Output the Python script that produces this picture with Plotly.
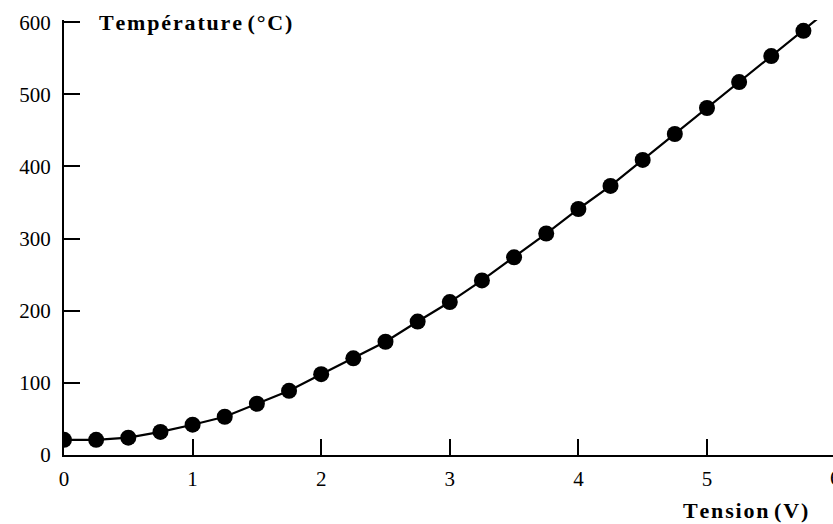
import plotly.graph_objects as go

# Measured heating curve: voltage (V) vs temperature (°C)
tension_v = [0.0, 0.25, 0.5, 0.75, 1.0, 1.25, 1.5, 1.75, 2.0, 2.25, 2.5, 2.75,
             3.0, 3.25, 3.5, 3.75, 4.0, 4.25, 4.5, 4.75, 5.0, 5.25, 5.5, 5.75, 6.0]
temperature_c = [21, 21, 24, 32, 42, 53, 71, 89, 112, 134, 157, 185,
                 212, 242, 274, 307, 341, 373, 409, 445, 481, 517, 553, 588, 625]

x_ticks = [0, 1, 2, 3, 4, 5, 6]
y_ticks = [0, 100, 200, 300, 400, 500, 600]

HS = "\u200a"  # hair space used to open up the bold axis titles


def spaced(s):
    return HS.join(s)


serif = "Liberation Serif, Times New Roman, serif"

fig = go.Figure()
fig.add_trace(go.Scatter(
    x=tension_v, y=temperature_c,
    mode="lines+markers",
    line=dict(color="black", width=2.2),
    marker=dict(color="black", size=16, symbol="circle"),
    showlegend=False,
    hoverinfo="skip",
))

axis_common = dict(
    showgrid=False, zeroline=False,
    showline=True, linecolor="black", linewidth=2,
    ticks="inside", ticklen=16, tickwidth=2, tickcolor="black",
    tickfont=dict(family=serif, size=21, color="black"),
)

fig.update_xaxes(range=[0, 5.98], tickvals=x_ticks, ticktext=[str(v) for v in x_ticks],
                 ticklabelstandoff=4, **axis_common)
fig.update_yaxes(range=[0, 603], tickvals=y_ticks, ticktext=[str(v) for v in y_ticks],
                 ticklabelstandoff=7, **axis_common)

title_font = dict(family=serif, size=22, color="black", weight="bold")

fig.add_annotation(
    text=spaced("Température") + " " + spaced("(°C)"),
    xref="paper", yref="paper", x=(97 - 64) / 769, y=1.0, yshift=-2,
    xanchor="left", yanchor="middle", showarrow=False, font=title_font,
)
fig.add_annotation(
    text=spaced("Tension") + " " + spaced("(V)"),
    xref="paper", yref="paper", x=(810 - 64) / 769, y=0, yshift=-55,
    xanchor="right", yanchor="middle", showarrow=False, font=title_font,
)
# label for the last tick, which sits just past the right edge of the axis
fig.add_annotation(
    text="6", xref="paper", yref="paper", x=(835.6 - 64) / 769, y=0, yshift=-23,
    xanchor="center", yanchor="middle", showarrow=False,
    font=dict(family=serif, size=21, color="black"),
)

fig.update_layout(
    width=833, height=524,
    margin=dict(l=64, r=0, t=20, b=69),
    paper_bgcolor="white", plot_bgcolor="white",
)

fig.write_html("out.html")
